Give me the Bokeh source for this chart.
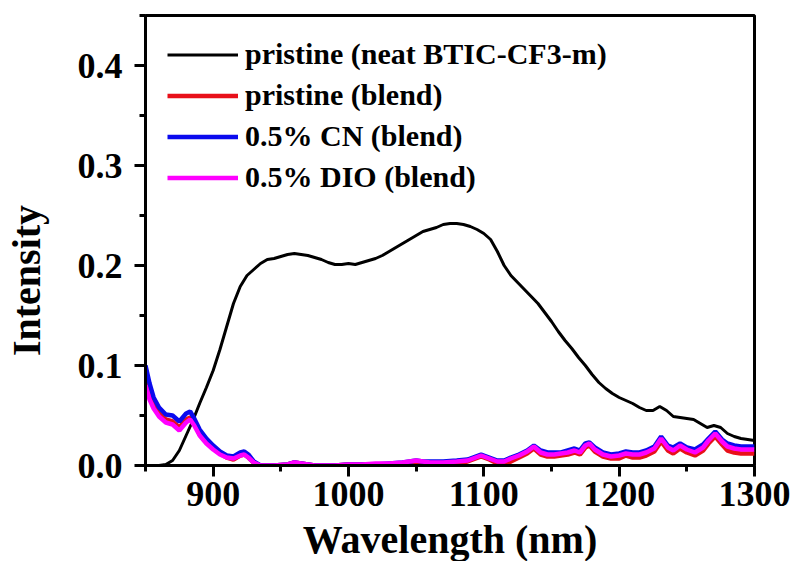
from bokeh.plotting import figure
from bokeh.models import FixedTicker, PrintfTickFormatter, Legend, LegendItem, Range1d
from bokeh.embed import file_html
from bokeh.resources import INLINE

# ---------------- data ----------------
wl_neat = [850, 860, 865, 870, 875, 880, 885, 890, 895, 900,
           905, 910, 915, 920, 925, 930, 935, 940, 945, 950,
           955, 960, 965, 970, 975, 980, 985, 990, 995, 1000,
           1005, 1010, 1015, 1020, 1025, 1030, 1035, 1040, 1045, 1050,
           1055, 1060, 1065, 1070, 1075, 1080, 1085, 1090, 1095, 1100,
           1105, 1110, 1115, 1120, 1125, 1130, 1135, 1140, 1145, 1150,
           1155, 1160, 1165, 1170, 1175, 1180, 1185, 1190, 1195, 1200,
           1205, 1210, 1215, 1220, 1225, 1230, 1235, 1240, 1245, 1250,
           1255, 1260, 1265, 1270, 1275, 1280, 1285, 1290, 1295, 1300]
neat = [0.000, 0.000, 0.001, 0.005, 0.015, 0.030, 0.045, 0.062, 0.078, 0.095,
        0.116, 0.139, 0.162, 0.179, 0.190, 0.196, 0.202, 0.206, 0.207, 0.209,
        0.211, 0.212, 0.211, 0.210, 0.208, 0.206, 0.203, 0.201, 0.201, 0.202,
        0.201, 0.203, 0.205, 0.207, 0.210, 0.214, 0.218, 0.222, 0.226, 0.230,
        0.234, 0.236, 0.238, 0.241, 0.242, 0.242, 0.241, 0.239, 0.236, 0.232,
        0.226, 0.214, 0.200, 0.190, 0.183, 0.176, 0.169, 0.162, 0.153, 0.144,
        0.134, 0.125, 0.117, 0.108, 0.100, 0.091, 0.083, 0.077, 0.072, 0.068,
        0.065, 0.062, 0.058, 0.055, 0.055, 0.059, 0.055, 0.049, 0.048, 0.047,
        0.046, 0.042, 0.038, 0.040, 0.038, 0.032, 0.029, 0.027, 0.026, 0.025]

wl_blend = [850, 853, 856, 860, 865, 870, 875, 880, 883, 886,
            890, 895, 900, 905, 910, 915, 920, 923, 926, 930,
            935, 945, 955, 960, 965, 975, 990, 1000, 1010, 1020,
            1030, 1040, 1045, 1050, 1055, 1060, 1070, 1080, 1088, 1094,
            1098, 1104, 1110, 1115, 1120, 1126, 1132, 1137, 1142, 1147,
            1152, 1157, 1162, 1167, 1171, 1175, 1178, 1182, 1188, 1194,
            1200, 1205, 1210, 1215, 1220, 1226, 1231, 1236, 1240, 1245,
            1250, 1256, 1262, 1266, 1271, 1276, 1280, 1285, 1290, 1295,
            1300]
pristine_blend = [.086, .072, .061, .052, .046, .044, .038, .046, .048, .042,
                  .031, .023, .017, .012, .008, .006, .010, .011, .008, .003,
                  .000, .000, .001, .003, .002, .000, .000, .001, .001, .001,
                  .001, .002, .003, .004, .003, .002, .001, .002, .004, .007,
                  .009, .006, .002, .002, .004, .008, .012, .017, .011, .009,
                  .009, .010, .011, .013, .011, .018, .020, .014, .009, .007,
                  .007, .010, .008, .008, .010, .014, .024, .015, .012, .017,
                  .013, .010, .015, .022, .029, .021, .015, .013, .012, .012,
                  .012]
cn_blend = [.100, .082, .068, .058, .051, .050, .044, .052, .054, .047,
            .036, .027, .020, .014, .010, .009, .013, .014, .011, .004,
            .000, .000, .001, .003, .002, .000, .000, .001, .001, .001,
            .002, .003, .004, .005, .004, .004, .004, .005, .006, .009,
            .011, .008, .005, .005, .008, .011, .015, .020, .015, .013,
            .013, .013, .015, .017, .015, .022, .023, .018, .013, .011,
            .012, .014, .013, .013, .015, .019, .029, .020, .018, .022,
            .018, .016, .021, .027, .034, .026, .022, .020, .019, .019,
            .019]
dio_blend = [.080, .066, .057, .049, .043, .041, .035, .043, .046, .040,
             .030, .022, .016, .011, .008, .007, .010, .011, .008, .003,
             .000, .000, .001, .003, .002, .000, .000, .001, .001, .002,
             .002, .003, .004, .005, .004, .003, .003, .004, .005, .008,
             .010, .007, .004, .004, .007, .010, .014, .019, .013, .011,
             .011, .012, .013, .015, .013, .020, .022, .016, .011, .009,
             .010, .012, .011, .011, .013, .017, .027, .018, .015, .020,
             .016, .013, .018, .025, .032, .024, .019, .017, .016, .016,
             .016]

series_labels = ["pristine (neat BTIC-CF3-m)", "pristine (blend)",
                 "0.5% CN (blend)", "0.5% DIO (blend)"]
series_colors = ["#000000", "#e8101a", "#0a0aee", "#ff00ff"]

x_major = [900, 1000, 1100, 1200, 1300]
x_minor = [850, 950, 1050, 1150, 1250]
y_major = [0.0, 0.1, 0.2, 0.3, 0.4]
y_minor = [0.05, 0.15, 0.25, 0.35, 0.45]

x_title = "Wavelength (nm)"
y_title = "Intensity"

FONT = "Liberation Serif"

p = figure(width=792, height=555, frame_width=609, frame_height=450,
           x_range=Range1d(850, 1300), y_range=Range1d(0, 0.45),
           output_backend="svg", toolbar_location=None,
           min_border_left=145, min_border_right=38,
           min_border_top=15, min_border_bottom=90)

p.grid.visible = False
p.outline_line_color = "black"
p.outline_line_width = 3
p.background_fill_color = "white"
p.border_fill_color = "white"

r0 = p.line(wl_neat, neat, line_color=series_colors[0], line_width=3)
r1 = p.line(wl_blend, pristine_blend, line_color=series_colors[1], line_width=4.5)
r2 = p.line(wl_blend, cn_blend, line_color=series_colors[2], line_width=4.5)
r3 = p.line(wl_blend, dio_blend, line_color=series_colors[3], line_width=4.5)

for ax in (p.xaxis[0], p.yaxis[0]):
    ax.axis_line_width = 3
    ax.major_tick_line_width = 3
    ax.minor_tick_line_width = 3
    ax.major_tick_out = 11
    ax.major_tick_in = 0
    ax.minor_tick_out = 6
    ax.minor_tick_in = 0
    ax.major_label_text_font = FONT
    ax.major_label_text_font_style = "bold"
    ax.major_label_text_font_size = "36px"
    ax.major_label_text_color = "black"
    ax.axis_label_text_font = FONT
    ax.axis_label_text_font_style = "bold"
    ax.axis_label_text_font_size = "40px"
    ax.axis_label_text_color = "black"

p.xaxis.ticker = FixedTicker(ticks=x_major, minor_ticks=x_minor)
p.yaxis.ticker = FixedTicker(ticks=y_major, minor_ticks=y_minor)
p.yaxis.formatter = PrintfTickFormatter(format="%.1f")
p.xaxis.axis_label = x_title
# trailing no-break spaces shift the title slightly downward, as in the original
p.yaxis.axis_label = y_title + "\u00a0" * 8
p.xaxis.major_label_standoff = 5
p.xaxis.axis_label_standoff = 8
p.yaxis.major_label_standoff = 12
p.yaxis.axis_label_standoff = 26

legend = Legend(items=[LegendItem(label=series_labels[0], renderers=[r0]),
                       LegendItem(label=series_labels[1], renderers=[r1]),
                       LegendItem(label=series_labels[2], renderers=[r2]),
                       LegendItem(label=series_labels[3], renderers=[r3])],
                location=(22, 271), padding=0, margin=0, spacing=7,
                glyph_width=71, glyph_height=31, label_height=31,
                label_standoff=7, border_line_color=None,
                background_fill_alpha=0,
                label_text_font=FONT, label_text_font_style="bold",
                label_text_font_size="30px", label_text_color="black")
p.add_layout(legend)

open("out.html", "w").write(file_html(p, INLINE))
